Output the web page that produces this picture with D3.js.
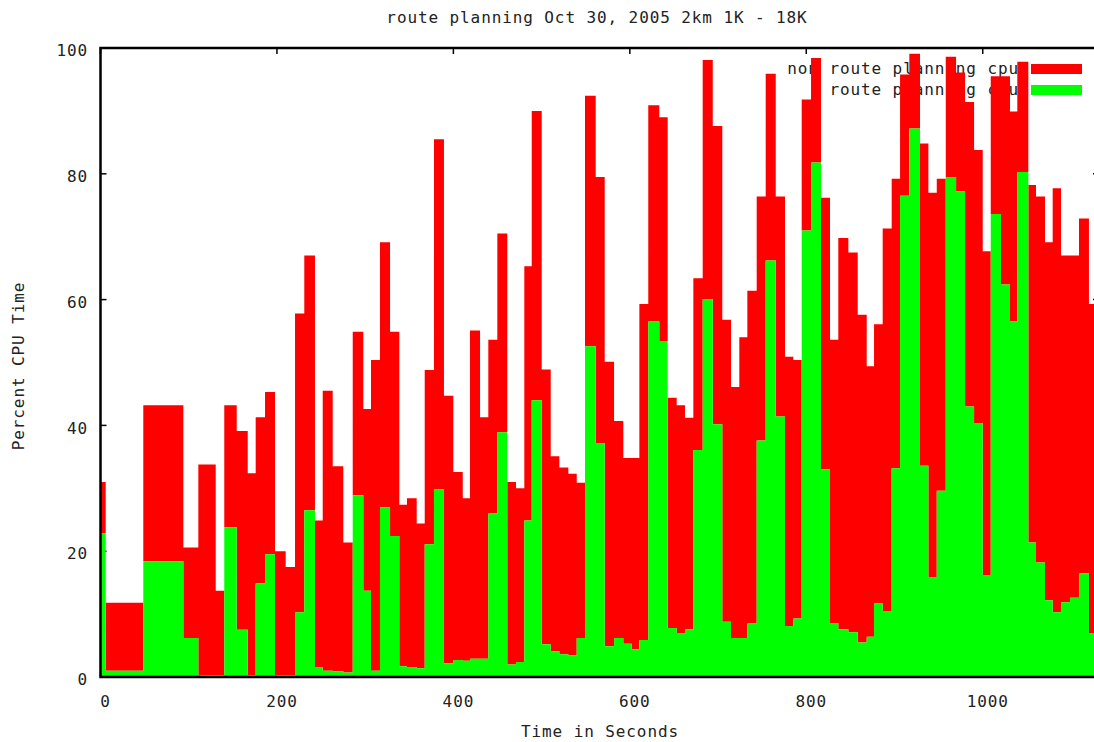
<!DOCTYPE html>
<html>
<head>
<meta charset="utf-8">
<script src="https://cdn.jsdelivr.net/npm/d3@7"></script>
<style>
  html, body { margin: 0; padding: 0; background: #fff; }
  svg { display: block; }
  text { font-family: "DejaVu Sans Mono", monospace; font-size: 16px; letter-spacing: 0.9px; fill: #222; }
</style>
</head>
<body>
<svg id="chart" width="1094" height="742"></svg>
<script>
// Sample start times (seconds); each sample holds until the next one.
const sampleTimes = [
  0, 5.9, 48.5, 93.9, 110.9, 130.6, 140.3, 154.4, 166.9, 175.9,
  186.5, 197.8, 209.9, 220.5, 231.0, 243.1, 251.9, 263.2, 275.2, 285.9,
  297.9, 306.6, 316.8, 328.2, 338.7, 347.4, 358.4, 367.5, 378.0, 389.3,
  399.9, 410.6, 418.8, 430.2, 439.6, 449.8, 461.1, 471.0, 480.4, 488.8,
  500.1, 510.3, 520.1, 530.3, 539.8, 549.2, 561.3, 571.5, 582.1, 592.6,
  602.1, 610.8, 620.9, 633.4, 642.9, 653.1, 662.5, 672.0, 682.6, 694.0,
  704.8, 714.7, 724.1, 733.2, 743.8, 754.0, 765.4, 775.9, 785.3, 794.8,
  805.4, 816.7, 826.9, 836.3, 847.7, 858.3, 868.5, 876.8, 886.6, 896.8,
  906.3, 916.8, 928.9, 938.4, 947.9, 958.1, 969.8, 980.0, 990.2, 1000.0,
  1009.1, 1020.7, 1030.9, 1039.2, 1051.7, 1060.4, 1070.6, 1079.3, 1088.7, 1098.9,
  1109.1, 1120.4
];
const endTime = 1131.8;

// Percent CPU spent in route planning
const routeCpu = [
  22.8, 1, 18.4, 6.2, 0.3, 0.3, 23.8, 7.5, 0.3, 14.9,
  19.5, 0.3, 0.3, 10.3, 26.5, 1.6, 1, 0.9, 0.7, 28.9,
  13.7, 1, 27, 22.4, 1.7, 1.6, 1.4, 21.1, 29.9, 2.2,
  2.7, 2.6, 2.9, 2.9, 26, 38.9, 2, 2.4, 24.9, 44,
  5.2, 4.1, 3.6, 3.4, 6.2, 52.6, 37.2, 4.9, 6.2, 5.3,
  4.4, 5.9, 56.5, 53.4, 7.8, 7, 7.6, 36.1, 60.1, 40.2,
  8.8, 6.2, 6.2, 8.5, 37.6, 66.2, 41.4, 8.1, 9.3, 71,
  81.8, 33, 8.6, 7.6, 7.1, 5.5, 6.4, 11.7, 10.5, 33.2,
  76.5, 87.2, 33.6, 15.9, 29.6, 79.5, 77.2, 43, 40.4, 16.2,
  73.6, 62.4, 56.5, 80.3, 21.4, 18.2, 12.2, 10.3, 11.9, 12.6,
  16.5, 7
];

// Percent CPU spent on everything else
const otherCpu = [
  8.2, 10.8, 24.8, 14.4, 33.5, 13.4, 19.4, 31.6, 32.1, 26.4,
  25.8, 19.7, 17.2, 47.5, 40.5, 23.3, 44.5, 32.6, 20.7, 26,
  28.9, 49.4, 42.1, 32.5, 25.7, 26.8, 23, 27.7, 55.6, 42.5,
  29.9, 25.8, 52.2, 38.4, 27.6, 31.6, 29, 27.6, 40.4, 46,
  43.7, 31, 29.7, 28.9, 24.7, 39.8, 42.3, 45.2, 34.5, 29.5,
  30.4, 53.4, 34.4, 35.6, 36.6, 36.2, 33.6, 27.3, 38, 47.4,
  48, 39.9, 47.8, 52.9, 38.8, 29.7, 35, 42.8, 41.1, 20.8,
  16.6, 43.2, 45, 62.2, 60.4, 52.1, 43, 44.4, 60.8, 46,
  19.3, 11.9, 51.2, 61.1, 49.6, 19.1, 18.9, 48.4, 43.4, 51.5,
  21.9, 33.1, 33.4, 17.5, 56.8, 58.2, 56.9, 67.4, 55.1, 54.4,
  56.4, 52.3
];

const xTicks = [0, 200, 400, 600, 800, 1000];
const yTicks = [0, 20, 40, 60, 80, 100];

const titleText = "route planning Oct 30, 2005 2km 1K - 18K";
const xLabel = "Time in Seconds";
const yLabel = "Percent CPU Time";
const legendLabels = ["non route planning cpu", "route planning cpu"];
const seriesColors = ["#ff0000", "#00ff00"];

const svg = d3.select("#chart");
const plotLeft = 100.5, plotRight = 1099, plotTop = 48, plotBottom = 677;

const x = d3.scaleLinear().domain([0, endTime]).range([plotLeft, plotRight]);
const y = d3.scaleLinear().domain([0, 100]).range([plotBottom, plotTop]);

// rows for stacking, plus a closing row so the last step spans to the end
const rows = sampleTimes.map((t, i) => ({ t, route: routeCpu[i], other: otherCpu[i] }));
rows.push({ t: endTime, route: routeCpu[routeCpu.length - 1], other: otherCpu[otherCpu.length - 1] });

const stacked = d3.stack().keys(["route", "other"])(rows);

svg.append("rect").attr("width", 1094).attr("height", 742).attr("fill", "#fff");

// tick marks (inward, mirrored on all sides)
const tickG = svg.append("g").attr("stroke", "#000").attr("stroke-width", 1.5);
xTicks.forEach(v => {
  tickG.append("line").attr("x1", x(v)).attr("x2", x(v)).attr("y1", plotBottom).attr("y2", plotBottom - 6);
  tickG.append("line").attr("x1", x(v)).attr("x2", x(v)).attr("y1", plotTop).attr("y2", plotTop + 6);
});
yTicks.forEach(v => {
  tickG.append("line").attr("x1", plotLeft).attr("x2", plotLeft + 6).attr("y1", y(v)).attr("y2", y(v));
  tickG.append("line").attr("x1", plotRight).attr("x2", plotRight - 6).attr("y1", y(v)).attr("y2", y(v));
});

// key (drawn below the data so the fills overlap it)
const legend = svg.append("g");
const legendY = [73.5, 95];
const swatchY = [64, 85];
legendLabels.forEach((label, row) => {
  legend.append("text")
    .attr("x", 1019).attr("y", legendY[row])
    .attr("text-anchor", "end")
    .text(label);
  legend.append("rect")
    .attr("x", 1031).attr("y", swatchY[row])
    .attr("width", 51).attr("height", 10)
    .attr("fill", seriesColors[row]);
});

// stacked step areas: non route planning on top of route planning
const area = d3.area()
  .curve(d3.curveStepAfter)
  .x(d => x(d.data.t))
  .y0(d => y(d[0]))
  .y1(d => y(d[1]));

svg.append("clipPath").attr("id", "plotClip")
  .append("rect").attr("x", plotLeft).attr("y", plotTop)
  .attr("width", plotRight - plotLeft).attr("height", plotBottom - plotTop);

const areas = svg.append("g").attr("clip-path", "url(#plotClip)");
areas.append("path").datum(stacked[1]).attr("d", area).attr("fill", seriesColors[0]);
areas.append("path").datum(stacked[0]).attr("d", area).attr("fill", seriesColors[1]);

// border
svg.append("rect")
  .attr("x", plotLeft).attr("y", plotTop)
  .attr("width", plotRight - plotLeft).attr("height", plotBottom - plotTop)
  .attr("fill", "none").attr("stroke", "#000").attr("stroke-width", 2.5);

// tick labels
const xAxis = d3.axisBottom(x).tickValues(xTicks).tickFormat(d3.format("d")).tickSize(0).tickPadding(0);
const xg = svg.append("g").attr("transform", `translate(4.5,${plotBottom})`).call(xAxis);
xg.select(".domain").remove();
xg.selectAll("text").attr("dy", null).attr("y", 29.5).attr("fill", "#222")
  .style("font-family", '"DejaVu Sans Mono", monospace').style("font-size", "16px");

const yAxis = d3.axisLeft(y).tickValues(yTicks).tickFormat(d3.format("d")).tickSize(0).tickPadding(0);
const yg = svg.append("g").attr("transform", `translate(88,2)`).call(yAxis);
yg.select(".domain").remove();
yg.selectAll("text").attr("dy", "0.35em").attr("x", 0).attr("fill", "#222")
  .style("font-family", '"DejaVu Sans Mono", monospace').style("font-size", "16px");

// titles
svg.append("text").attr("x", 597).attr("y", 23).attr("text-anchor", "middle").text(titleText);
svg.append("text").attr("x", 600).attr("y", 737).attr("text-anchor", "middle").text(xLabel);
svg.append("text").attr("transform", "translate(24,366) rotate(-90)").attr("text-anchor", "middle").text(yLabel);
</script>
</body>
</html>
